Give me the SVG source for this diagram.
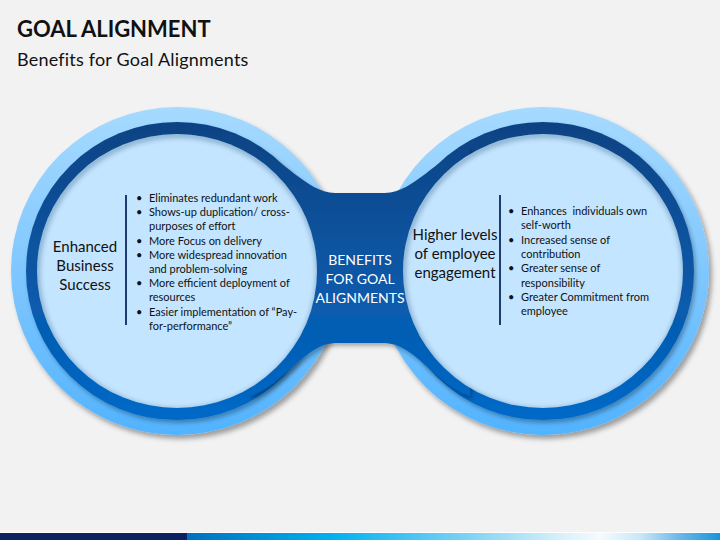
<svg xmlns="http://www.w3.org/2000/svg" width="720" height="540" viewBox="0 0 720 540">
<style>
  text { font-family: "Lato", "Liberation Sans", sans-serif; fill: #111111; }
  .title { font-size: 22px; font-weight: bold; }
  .sub { font-size: 18px; letter-spacing: 0.2px; }
  .head { font-size: 15px; text-anchor: middle; }
  .bul { font-size: 11px; }
  .ctr { font-size: 14px; fill: #FFFFFF; text-anchor: middle; }
  .outer { fill: url(#gOuter); }
  .dark { fill: url(#gDark); }
  .inner { fill: #C3E5FF; }
  .ish { fill: none; stroke: #06305F; stroke-width: 5; stroke-opacity: 0.35; filter: url(#blur); }
  .div { stroke: #1F3A6E; stroke-width: 2; }
</style>
<defs>
  <linearGradient id="gOuter" gradientUnits="userSpaceOnUse" x1="0" y1="107" x2="0" y2="435">
    <stop offset="0" stop-color="#A6DAFF"/>
    <stop offset="0.5" stop-color="#80C7FF"/>
    <stop offset="1" stop-color="#52B3FF"/>
  </linearGradient>
  <linearGradient id="gDark" gradientUnits="userSpaceOnUse" x1="0" y1="122" x2="0" y2="420">
    <stop offset="0" stop-color="#0A4283"/>
    <stop offset="0.48" stop-color="#0A56A3"/>
    <stop offset="1" stop-color="#0069C8"/>
  </linearGradient>
  <linearGradient id="gBar" gradientUnits="userSpaceOnUse" x1="187" y1="0" x2="720" y2="0">
    <stop offset="0" stop-color="#0070C0"/>
    <stop offset="0.27" stop-color="#00B0F0"/>
    <stop offset="0.53" stop-color="#7FD3F3"/>
    <stop offset="0.70" stop-color="#D6F0FB"/>
    <stop offset="0.775" stop-color="#F5FBFD"/>
    <stop offset="0.85" stop-color="#C8E8F8"/>
    <stop offset="0.925" stop-color="#6BB6E8"/>
    <stop offset="1" stop-color="#1596DC"/>
  </linearGradient>
  <filter id="sh" x="-10%" y="-10%" width="125%" height="125%">
    <feDropShadow dx="3" dy="4" stdDeviation="2.5" flood-color="#000000" flood-opacity="0.35"/>
  </filter>
  <filter id="sh2" x="-10%" y="-10%" width="125%" height="125%">
    <feDropShadow dx="2" dy="3" stdDeviation="2" flood-color="#000000" flood-opacity="0.3"/>
  </filter>
  <filter id="blur" x="-10%" y="-10%" width="120%" height="120%">
    <feGaussianBlur stdDeviation="2.5"/>
  </filter>
  <clipPath id="clipL"><ellipse cx="177" cy="271" rx="140" ry="137"/></clipPath>
  <clipPath id="clipR"><ellipse cx="543" cy="271" rx="140" ry="137"/></clipPath>
</defs>

<rect x="0" y="0" width="720" height="540" fill="#F2F2F2"/>

<text class="title" x="17" y="37">GOAL ALIGNMENT</text>
<text class="sub" x="17" y="66">Benefits for Goal Alignments</text>

<g id="rings">
  <g filter="url(#sh)">
    <ellipse class="outer" cx="177" cy="271" rx="166" ry="164"/>
    <ellipse class="outer" cx="543" cy="271" rx="166" ry="164"/>
  </g>
  <g filter="url(#sh2)">
    <ellipse class="dark" cx="177" cy="271" rx="151" ry="149"/>
    <ellipse class="dark" cx="543" cy="271" rx="151" ry="149"/>
  </g>
</g>

<g id="connectors">
  <path class="dark" filter="url(#sh2)" d="M250,146 C285,158 305,192 335,193 L385,193 C415,192 435,158 470,146 L470,396 C435,384 415,344 385,343 L335,343 C305,344 285,384 250,396 Z"/>
</g>

<g id="node-benefits-center">
  <text class="ctr"><tspan x="360" y="265">BENEFITS</tspan><tspan x="360" y="284">FOR GOAL</tspan><tspan x="360" y="303">ALIGNMENTS</tspan></text>
</g>

<g id="node-enhanced-business-success">
  <ellipse class="inner" cx="177" cy="271" rx="140" ry="137"/>
  <ellipse class="ish" clip-path="url(#clipL)" cx="178" cy="273" rx="141" ry="138"/>
  <text class="head"><tspan x="85" y="252">Enhanced</tspan><tspan x="85" y="271">Business</tspan><tspan x="85" y="290">Success</tspan></text>
  <line class="div" x1="126" y1="195" x2="126" y2="325"/>
  <text class="bul">
    <tspan x="136" y="202">•</tspan><tspan x="149" y="202">Eliminates redundant work</tspan>
    <tspan x="136" y="216.2">•</tspan><tspan x="149" y="216.2">Shows-up duplication/ cross-</tspan>
    <tspan x="149" y="230.4">purposes of effort</tspan>
    <tspan x="136" y="244.6">•</tspan><tspan x="149" y="244.6">More Focus on delivery</tspan>
    <tspan x="136" y="258.8">•</tspan><tspan x="149" y="258.8">More widespread innovation</tspan>
    <tspan x="149" y="273">and problem-solving</tspan>
    <tspan x="136" y="287.2">•</tspan><tspan x="149" y="287.2">More efficient deployment of</tspan>
    <tspan x="149" y="301.4">resources</tspan>
    <tspan x="136" y="315.6">•</tspan><tspan x="149" y="315.6">Easier implementation of “Pay-</tspan>
    <tspan x="149" y="329.8">for-performance”</tspan>
  </text>
</g>

<g id="node-higher-employee-engagement">
  <ellipse class="inner" cx="543" cy="271" rx="140" ry="137"/>
  <ellipse class="ish" clip-path="url(#clipR)" cx="544" cy="273" rx="141" ry="138"/>
  <text class="head"><tspan x="455" y="239.5">Higher levels</tspan><tspan x="455" y="258.5">of employee</tspan><tspan x="455" y="277.5">engagement</tspan></text>
  <line class="div" x1="500" y1="195" x2="500" y2="325"/>
  <text class="bul">
    <tspan x="508" y="215">•</tspan><tspan x="521" y="215">Enhances&#160; individuals own</tspan>
    <tspan x="521" y="229.3">self-worth</tspan>
    <tspan x="508" y="243.6">•</tspan><tspan x="521" y="243.6">Increased sense of</tspan>
    <tspan x="521" y="257.9">contribution</tspan>
    <tspan x="508" y="272.2">•</tspan><tspan x="521" y="272.2">Greater sense of</tspan>
    <tspan x="521" y="286.5">responsibility</tspan>
    <tspan x="508" y="300.8">•</tspan><tspan x="521" y="300.8">Greater Commitment from</tspan>
    <tspan x="521" y="315.1">employee</tspan>
  </text>
</g>

<rect x="0" y="532" width="720" height="1" fill="#FFFFFF" opacity="0.8"/>
<rect x="0" y="533" width="187" height="7" fill="#0B2161"/>
<rect x="187" y="533" width="533" height="7" fill="url(#gBar)"/>
</svg>
